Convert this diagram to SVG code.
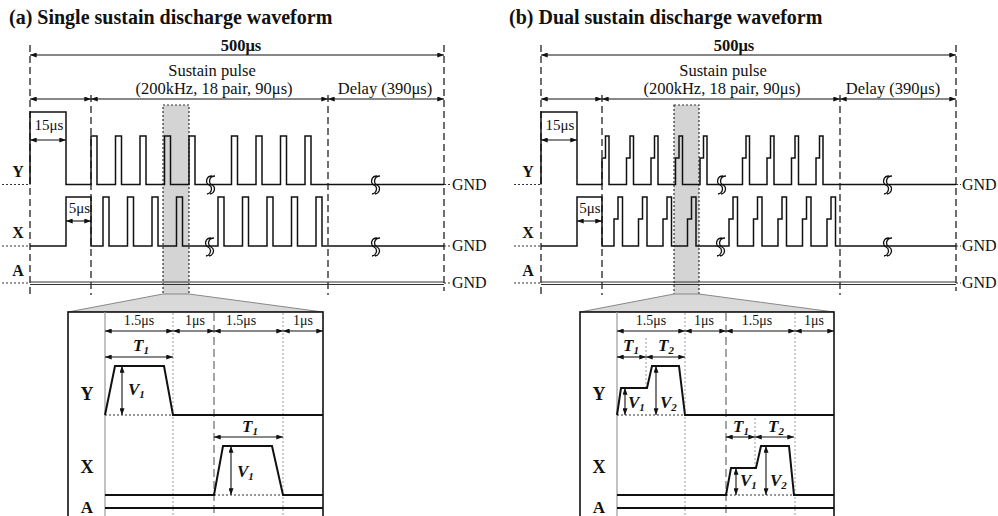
<svg xmlns="http://www.w3.org/2000/svg" width="998" height="516" viewBox="0 0 998 516">
<style>
.t{font-family:"Liberation Serif","Times New Roman",serif;fill:#111}
.b{font-weight:bold}
.bi{font-weight:bold;font-style:italic}
.w{fill:none;stroke:#111;stroke-width:1.5;stroke-linejoin:miter}
.wd{fill:none;stroke:#111;stroke-width:2;stroke-linejoin:miter}
.dash{stroke:#222;stroke-width:1.3;stroke-dasharray:7,4;fill:none}
.dot{stroke:#333;stroke-width:1.2;stroke-dasharray:2,2;fill:none}
.ldot{stroke:#999;stroke-width:1;stroke-dasharray:2,2;fill:none}
.gdash{stroke:#777;stroke-width:1.3;stroke-dasharray:8,4;fill:none}
.dim{stroke:#111;stroke-width:1.1;fill:none;marker-start:url(#ah);marker-end:url(#ah)}
.shade{fill:#d4d4d4;stroke:#333;stroke-width:1.2;stroke-dasharray:2,2}
.trap{fill:#d9d9d9;stroke:#888;stroke-width:1}
.box{fill:#fff;stroke:#111;stroke-width:1.6}
.brk{fill:none;stroke:#111;stroke-width:1.3}
</style>
<defs>
<marker id="ah" viewBox="0 0 8 6" refX="8" refY="3" markerWidth="7" markerHeight="5" markerUnits="userSpaceOnUse" orient="auto-start-reverse">
<path d="M0,0 L8,3 L0,6 z" fill="#111"/>
</marker>
<g id="brk">
<path class="brk" d="M3,-9 C-3,-9 -4,-2 0,0 C4,2 3,8 -2,9 M6,-9 C0,-9 -1,-2 3,0 C7,2 6,8 1,9"/>
</g>
</defs>

<rect width="998" height="516" fill="#fff"/>

<!-- ============ (a) ============ -->
<g id="panel-a">
<text class="t b" x="9" y="24" font-size="20">(a) Single sustain discharge waveform</text>

<g id="a-shade">
<rect class="shade" x="163" y="105" width="26" height="190"/>
<polygon class="trap" points="163,294 189,294 323,312 68,312"/>
</g>

<g id="a-dashes">
<line class="dash" x1="30" y1="45" x2="30" y2="295"/>
<line class="dash" x1="91" y1="95" x2="91" y2="295"/>
<line class="dash" x1="328" y1="95" x2="328" y2="295"/>
<line class="dash" x1="444" y1="45" x2="444" y2="291"/>
</g>

<g id="a-dims">
<line class="dim" x1="30" y1="55" x2="444" y2="55"/>
<line class="dim" x1="30" y1="99" x2="91" y2="99"/>
<line class="dim" x1="91" y1="99" x2="328" y2="99"/>
<line class="dim" x1="328" y1="99" x2="444" y2="99"/>
<line class="dim" x1="30" y1="140" x2="66" y2="140"/>
<line class="dim" x1="66" y1="221" x2="91" y2="221"/>
</g>

<g id="a-labels">
<text class="t b" x="241" y="51" font-size="16.5" text-anchor="middle">500μs</text>
<text class="t" x="212" y="76" font-size="16.5" text-anchor="middle">Sustain pulse</text>
<text class="t" x="214" y="94" font-size="16.5" text-anchor="middle">(200kHz, 18 pair, 90μs)</text>
<text class="t" x="385" y="94" font-size="16.5" text-anchor="middle">Delay (390μs)</text>
<text class="t" x="49" y="130" font-size="15" text-anchor="middle">15μs</text>
<text class="t" x="79.5" y="213" font-size="15" text-anchor="middle">5μs</text>
<text class="t b" x="18" y="177" font-size="16" text-anchor="middle">Y</text>
<text class="t b" x="18" y="238" font-size="16" text-anchor="middle">X</text>
<text class="t b" x="18" y="276" font-size="16" text-anchor="middle">A</text>
<text class="t" x="452" y="190" font-size="16">GND</text>
<text class="t" x="452" y="251" font-size="16">GND</text>
<text class="t" x="452" y="288" font-size="16">GND</text>
</g>

<g id="a-Y">
<line class="dot" x1="2" y1="184.5" x2="30" y2="184.5"/>
<line class="dot" x1="444" y1="184.5" x2="450" y2="184.5"/>
<path class="w" d="M30,184.5 V112 H66 V184.5 H91 V136 H97 V184.5 H115.5 V136 H121.5 V184.5 H140 V136 H146 V184.5 H164.5 V136 H170.5 V184.5 H189 V136 H195 V184.5 H231.5 V136 H237.5 V184.5 H256 V136 H262 V184.5 H280.5 V136 H286.5 V184.5 H305 V136 H311 V184.5 H444"/>
<use href="#brk" x="209" y="185"/>
<use href="#brk" x="374" y="185"/>
</g>
<g id="a-X">
<line class="dot" x1="2" y1="246" x2="30" y2="246"/>
<line class="dot" x1="444" y1="246" x2="450" y2="246"/>
<path class="w" d="M30,246 H66 V197 H91 V246 H103 V197 H109 V246 H127.5 V197 H133.5 V246 H152 V197 H158 V246 H176.5 V197 H182.5 V246 H218 V197 H224 V246 H242.5 V197 H248.5 V246 H267 V197 H273 V246 H291.5 V197 H297.5 V246 H316 V197 H322 V246 H444"/>
<use href="#brk" x="208" y="247"/>
<use href="#brk" x="374" y="247"/>
</g>
<g id="a-A">
<line class="dot" x1="2" y1="283" x2="30" y2="283"/>
<line class="dot" x1="444" y1="283" x2="450" y2="283"/>
<line x1="30" y1="282" x2="444" y2="282" stroke="#333" stroke-width="1"/>
<line x1="30" y1="284.5" x2="444" y2="284.5" stroke="#333" stroke-width="1"/>
</g>

<g id="a-detail">
<rect class="box" x="68" y="312" width="255" height="210"/>
<line x1="105" y1="312" x2="105" y2="516" stroke="#999" stroke-width="1.2"/>
<line class="ldot" x1="173" y1="313" x2="173" y2="516"/>
<line class="gdash" x1="214" y1="313" x2="214" y2="516"/>
<line class="ldot" x1="283" y1="313" x2="283" y2="516"/>
<line class="dim" x1="105" y1="331" x2="173" y2="331"/>
<line class="dim" x1="173" y1="331" x2="214" y2="331"/>
<line class="dim" x1="214" y1="331" x2="283" y2="331"/>
<line class="dim" x1="283" y1="331" x2="323" y2="331"/>
<text class="t" x="139" y="325" font-size="14" text-anchor="middle">1.5μs</text>
<text class="t" x="195" y="325" font-size="14" text-anchor="middle">1μs</text>
<text class="t" x="241" y="325" font-size="14" text-anchor="middle">1.5μs</text>
<text class="t" x="303" y="325" font-size="14" text-anchor="middle">1μs</text>
<text class="t b" x="87" y="400" font-size="18" text-anchor="middle">Y</text>
<text class="t b" x="87" y="473" font-size="18" text-anchor="middle">X</text>
<text class="t b" x="87" y="513" font-size="17" text-anchor="middle">A</text>
<line class="dim" x1="105" y1="357" x2="173" y2="357"/>
<text class="t bi" x="133" y="351" font-size="17">T<tspan font-size="11" dy="3">1</tspan></text>
<line class="dot" x1="105" y1="415" x2="173" y2="415"/>
<path class="wd" d="M105,415 L115,366 H164 L173,415 H323"/>
<line class="dim" x1="122" y1="366" x2="122" y2="415"/>
<text class="t bi" x="128" y="395" font-size="17">V<tspan font-size="11" dy="3">1</tspan></text>
<line class="dim" x1="214" y1="437" x2="283" y2="437"/>
<text class="t bi" x="242" y="432" font-size="17">T<tspan font-size="11" dy="3">1</tspan></text>
<line class="dot" x1="214" y1="495" x2="283" y2="495"/>
<path class="wd" d="M105,495 H214 L223,446 H272 L283,495 H323"/>
<line class="dim" x1="231" y1="446" x2="231" y2="495"/>
<text class="t bi" x="237" y="477" font-size="17">V<tspan font-size="11" dy="3">1</tspan></text>
<line x1="105" y1="508" x2="323" y2="508" stroke="#111" stroke-width="2"/>
</g>
</g>

<!-- ============ (b) ============ -->
<g id="panel-b">
<text class="t b" x="509" y="24" font-size="20">(b) Dual sustain discharge waveform</text>

<g id="b-shade">
<rect class="shade" x="674" y="105" width="25" height="190"/>
<polygon class="trap" points="674,294 699,294 834,312 580,312"/>
</g>

<g id="b-dashes">
<line class="dash" x1="541" y1="45" x2="541" y2="295"/>
<line class="dash" x1="602" y1="95" x2="602" y2="295"/>
<line class="dash" x1="840" y1="95" x2="840" y2="295"/>
<line class="dash" x1="956" y1="45" x2="956" y2="291"/>
</g>

<g id="b-dims">
<line class="dim" x1="541" y1="55" x2="956" y2="55"/>
<line class="dim" x1="541" y1="99" x2="602" y2="99"/>
<line class="dim" x1="602" y1="99" x2="840" y2="99"/>
<line class="dim" x1="840" y1="99" x2="956" y2="99"/>
<line class="dim" x1="541" y1="140" x2="577" y2="140"/>
<line class="dim" x1="577" y1="221" x2="602" y2="221"/>
</g>

<g id="b-labels">
<text class="t b" x="734" y="51" font-size="16.5" text-anchor="middle">500μs</text>
<text class="t" x="723" y="76" font-size="16.5" text-anchor="middle">Sustain pulse</text>
<text class="t" x="722" y="94" font-size="16.5" text-anchor="middle">(200kHz, 18 pair, 90μs)</text>
<text class="t" x="893" y="94" font-size="16.5" text-anchor="middle">Delay (390μs)</text>
<text class="t" x="560" y="130" font-size="15" text-anchor="middle">15μs</text>
<text class="t" x="590" y="213" font-size="15" text-anchor="middle">5μs</text>
<text class="t b" x="528" y="177" font-size="16" text-anchor="middle">Y</text>
<text class="t b" x="528" y="238" font-size="16" text-anchor="middle">X</text>
<text class="t b" x="528" y="276" font-size="16" text-anchor="middle">A</text>
<text class="t" x="962" y="190" font-size="16">GND</text>
<text class="t" x="962" y="251" font-size="16">GND</text>
<text class="t" x="962" y="288" font-size="16">GND</text>
</g>

<g id="b-Y">
<line class="dot" x1="514" y1="184.5" x2="541" y2="184.5"/>
<line class="dot" x1="956" y1="184.5" x2="961" y2="184.5"/>
<path class="w" d="M541,184.5 V112 H577 V184.5 H602 V158 H605.5 V136 H609 V184.5 H626.5 V158 H630 V136 H633.5 V184.5 H651 V158 H654.5 V136 H658 V184.5 H675.5 V158 H679 V136 H682.5 V184.5 H700 V158 H703.5 V136 H707 V184.5 H742.5 V158 H746 V136 H749.5 V184.5 H767 V158 H770.5 V136 H774 V184.5 H791.5 V158 H795 V136 H798.5 V184.5 H816 V158 H819.5 V136 H823 V184.5 H956"/>
<use href="#brk" x="720" y="185"/>
<use href="#brk" x="886" y="185"/>
</g>
<g id="b-X">
<line class="dot" x1="514" y1="246" x2="541" y2="246"/>
<line class="dot" x1="956" y1="246" x2="961" y2="246"/>
<path class="w" d="M541,246 H577 V197 H602 V246 H614 V219 H618 V197 H622.5 V246 H638.5 V219 H642.5 V197 H647 V246 H663 V219 H667 V197 H671.5 V246 H687.5 V219 H691.5 V197 H696 V246 H729 V219 H733 V197 H737.5 V246 H753.5 V219 H757.5 V197 H762 V246 H778 V219 H782 V197 H786.5 V246 H802.5 V219 H806.5 V197 H811 V246 H827 V219 H831 V197 H835.5 V246 H956"/>
<use href="#brk" x="719" y="247"/>
<use href="#brk" x="886" y="247"/>
</g>
<g id="b-A">
<line class="dot" x1="514" y1="283" x2="541" y2="283"/>
<line class="dot" x1="956" y1="283" x2="961" y2="283"/>
<line x1="541" y1="282" x2="956" y2="282" stroke="#333" stroke-width="1"/>
<line x1="541" y1="284.5" x2="956" y2="284.5" stroke="#333" stroke-width="1"/>
</g>

<g id="b-detail">
<rect class="box" x="580" y="312" width="254" height="210"/>
<line x1="617" y1="312" x2="617" y2="516" stroke="#999" stroke-width="1.2"/>
<line class="ldot" x1="685" y1="313" x2="685" y2="516"/>
<line class="gdash" x1="726" y1="313" x2="726" y2="516"/>
<line class="ldot" x1="795" y1="313" x2="795" y2="516"/>
<line class="dim" x1="617" y1="331" x2="685" y2="331"/>
<line class="dim" x1="685" y1="331" x2="726" y2="331"/>
<line class="dim" x1="726" y1="331" x2="795" y2="331"/>
<line class="dim" x1="795" y1="331" x2="834" y2="331"/>
<text class="t" x="651" y="325" font-size="14" text-anchor="middle">1.5μs</text>
<text class="t" x="704" y="325" font-size="14" text-anchor="middle">1μs</text>
<text class="t" x="757" y="325" font-size="14" text-anchor="middle">1.5μs</text>
<text class="t" x="814" y="325" font-size="14" text-anchor="middle">1μs</text>
<text class="t b" x="599" y="400" font-size="18" text-anchor="middle">Y</text>
<text class="t b" x="599" y="473" font-size="18" text-anchor="middle">X</text>
<text class="t b" x="599" y="513" font-size="17" text-anchor="middle">A</text>
<line class="ldot" x1="646" y1="338" x2="646" y2="388"/>
<line class="dim" x1="617" y1="357" x2="646" y2="357"/>
<line class="dim" x1="646" y1="357" x2="685" y2="357"/>
<text class="t bi" x="623" y="351" font-size="17">T<tspan font-size="11" dy="3">1</tspan></text>
<text class="t bi" x="658" y="351" font-size="17">T<tspan font-size="11" dy="3">2</tspan></text>
<line class="dot" x1="617" y1="415" x2="685" y2="415"/>
<path class="wd" d="M617,415 L621,388 H647 L652,366 H679 L685,415 H834"/>
<line class="dim" x1="625" y1="388" x2="625" y2="415"/>
<line class="dim" x1="656" y1="366" x2="656" y2="415"/>
<text class="t bi" x="628" y="408" font-size="17">V<tspan font-size="11" dy="3">1</tspan></text>
<text class="t bi" x="660" y="408" font-size="17">V<tspan font-size="11" dy="3">2</tspan></text>
<line class="ldot" x1="755" y1="418" x2="755" y2="468"/>
<line class="dim" x1="726" y1="437" x2="755" y2="437"/>
<line class="dim" x1="755" y1="437" x2="794" y2="437"/>
<text class="t bi" x="733" y="432" font-size="17">T<tspan font-size="11" dy="3">1</tspan></text>
<text class="t bi" x="768" y="432" font-size="17">T<tspan font-size="11" dy="3">2</tspan></text>
<line class="dot" x1="726" y1="495" x2="794" y2="495"/>
<path class="wd" d="M617,495 H726 L731,468 H756 L761,446 H789 L794,495 H834"/>
<line class="dim" x1="736" y1="468" x2="736" y2="495"/>
<line class="dim" x1="766" y1="446" x2="766" y2="495"/>
<text class="t bi" x="740" y="486" font-size="17">V<tspan font-size="11" dy="3">1</tspan></text>
<text class="t bi" x="770" y="486" font-size="17">V<tspan font-size="11" dy="3">2</tspan></text>
<line x1="617" y1="508" x2="834" y2="508" stroke="#111" stroke-width="2"/>
</g>
</g>
</svg>
